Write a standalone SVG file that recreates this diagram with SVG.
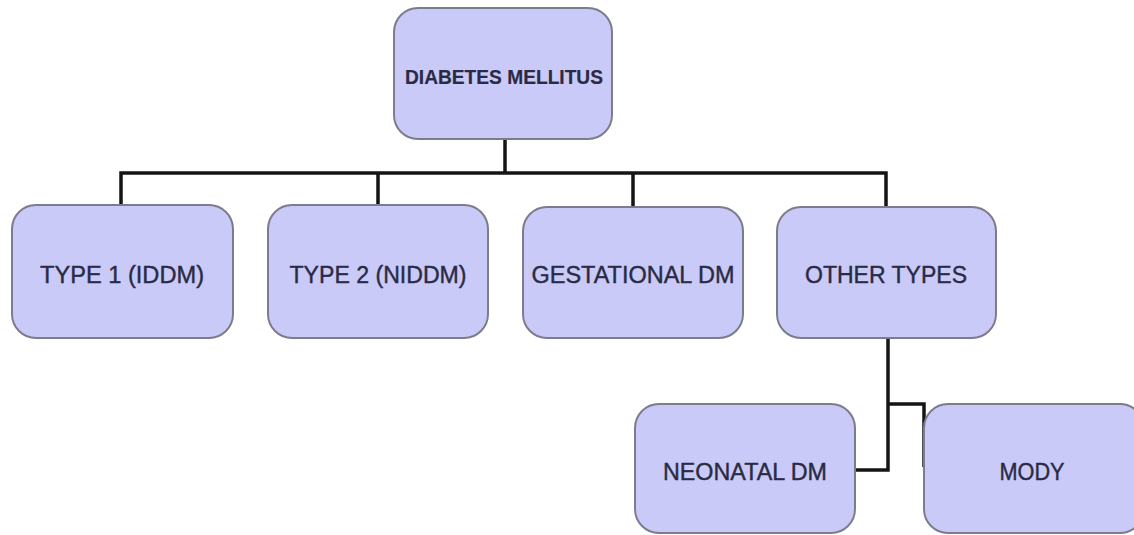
<svg xmlns="http://www.w3.org/2000/svg" width="1134" height="535" viewBox="0 0 1134 535">
<style>
.box{fill:#cacaf8;stroke:#7c7c8c;stroke-width:2}
.lbl{font-family:"Liberation Sans",Arial,sans-serif;font-size:23px;fill:#2a2a44;stroke:#2a2a44;stroke-width:0.4;text-anchor:middle}
.b{font-weight:bold;font-size:21px;stroke-width:0.2}
.con{fill:none;stroke:#151515;stroke-width:3.5}
</style>
<rect width="1134" height="535" fill="#ffffff"/>
<g id="connectors">
<path class="con" d="M505 139V173M121 207V173H886V207M378 173V207M633 173V207"/>
<path class="con" d="M888 338V470H854M888 404H924V467"/>
</g>
<g id="n-dm"><rect class="box" x="394" y="8" width="218" height="131" rx="24"/><text class="lbl b" x="504" y="84" textLength="198" lengthAdjust="spacingAndGlyphs">DIABETES MELLITUS</text></g>
<g id="n-t1"><rect class="box" x="12" y="205" width="221" height="133" rx="24"/><text class="lbl" x="122" y="283" textLength="164" lengthAdjust="spacingAndGlyphs">TYPE 1 (IDDM)</text></g>
<g id="n-t2"><rect class="box" x="268" y="205" width="220" height="133" rx="24"/><text class="lbl" x="378" y="283" textLength="177" lengthAdjust="spacingAndGlyphs">TYPE 2 (NIDDM)</text></g>
<g id="n-gdm"><rect class="box" x="523" y="207" width="220" height="131" rx="24"/><text class="lbl" x="633" y="283" textLength="203" lengthAdjust="spacingAndGlyphs">GESTATIONAL DM</text></g>
<g id="n-other"><rect class="box" x="777" y="207" width="219" height="131" rx="24"/><text class="lbl" x="886" y="283" textLength="162" lengthAdjust="spacingAndGlyphs">OTHER TYPES</text></g>
<g id="n-neo"><rect class="box" x="635" y="404" width="220" height="129" rx="24"/><text class="lbl" x="745" y="480" textLength="164" lengthAdjust="spacingAndGlyphs">NEONATAL DM</text></g>
<g id="n-mody"><rect class="box" x="924" y="404" width="220" height="129" rx="24"/><text class="lbl" x="1032" y="480" textLength="65" lengthAdjust="spacingAndGlyphs">MODY</text></g>
</svg>
